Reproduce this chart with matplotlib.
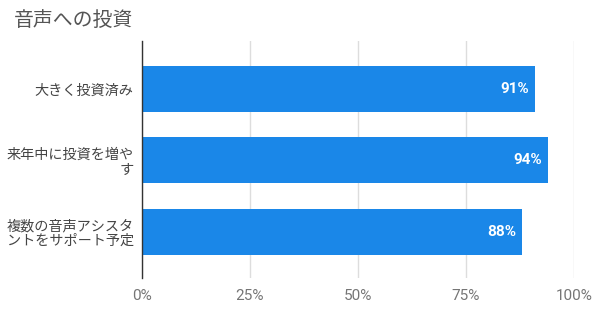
import matplotlib
matplotlib.use('Agg')
import matplotlib.pyplot as plt
import numpy as np

plt.rcParams['font.family'] = ['Roboto', 'Noto Sans CJK JP', 'DejaVu Sans']

CATEGORIES = ['大きく投資済み', '来年中に投資を増や\nす', '複数の音声アシスタ\nントをサポート予定']
VALUES = [0.91, 0.94, 0.88]
XTICKS = [0, 0.25, 0.5, 0.75, 1.0]
XTICK_LABELS = ['0%', '25%', '50%', '75%', '100%']

BLUE = '#1A87E8'

fig = plt.figure(figsize=(6, 3.14), dpi=100)
ax = fig.add_axes([142 / 600, 1 - 278 / 314, 432 / 600, 237 / 314])

y = np.arange(len(CATEGORIES))
bars = ax.barh(y, VALUES, height=0.645, color=BLUE, zorder=2)

for bar, v in zip(bars, VALUES):
    ax.text(bar.get_width() - 0.014, bar.get_y() + bar.get_height() / 2,
            f'{v * 100:.0f}%', ha='right', va='center', color='white',
            fontsize=11, fontweight='bold', zorder=3)

ax.set_xlim(0, 1.0)
ax.set_ylim(2.65, -0.67)
ax.set_xticks(XTICKS)
ax.set_xticklabels(XTICK_LABELS, fontsize=11, color='#757575')
ax.set_yticks(y)
ax.set_yticklabels(CATEGORIES, fontsize=10.2, color='#444444', linespacing=1.1)
ax.tick_params(axis='both', length=0)
ax.tick_params(axis='x', pad=8)
ax.tick_params(axis='y', pad=6)
ax.grid(True, axis='x', color='#DDDDDD', linewidth=1, zorder=0)

for s in ['top', 'right', 'bottom']:
    ax.spines[s].set_visible(False)
ax.spines['left'].set_color('#333333')
ax.spines['left'].set_linewidth(1)
ax.spines['left'].set_zorder(4)

fig.text(14 / 600, 1 - 20 / 314, '音声への投資', fontsize=14.3, color='#555555',
         ha='left', va='center')

fig.savefig('out.png', dpi=100, facecolor='white')
